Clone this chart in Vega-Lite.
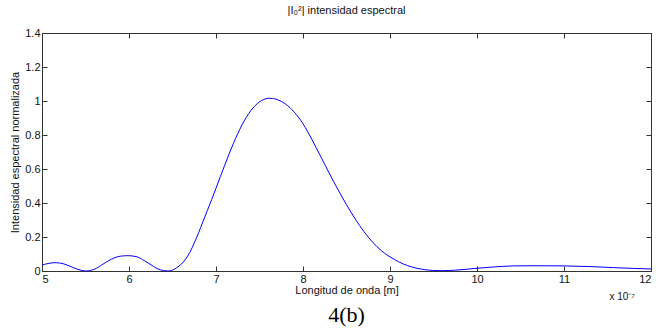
{
  "$schema": "https://vega.github.io/schema/vega-lite/v6.json",
  "width": 609,
  "height": 238,
  "autosize": "none",
  "padding": {"left": 42, "top": 33, "right": 15, "bottom": 63},
  "background": "white",
  "config": {
    "view": {"stroke": "#333333", "strokeWidth": 1},
    "font": "Liberation Sans",
    "axis": {
      "grid": false,
      "domainColor": "#333333",
      "tickColor": "#333333",
      "labelColor": "#111111",
      "titleColor": "#111111",
      "labelFont": "Liberation Sans",
      "titleFont": "Liberation Sans",
      "labelFontSize": 11,
      "titleFontSize": 11,
      "titleFontWeight": "normal",
      "tickSize": -5
    }
  },
  "title": {
    "text": "|I₀²| intensidad espectral",
    "font": "Liberation Sans",
    "fontSize": 11,
    "fontWeight": "normal",
    "color": "#111111",
    "anchor": "middle",
    "offset": 11
  },
  "data": {
    "values": [
      {"longitud": 5.0, "intensidad": 0.035},
      {"longitud": 5.08, "intensidad": 0.045},
      {"longitud": 5.15, "intensidad": 0.049},
      {"longitud": 5.25, "intensidad": 0.042},
      {"longitud": 5.35, "intensidad": 0.022},
      {"longitud": 5.45, "intensidad": 0.004},
      {"longitud": 5.51, "intensidad": 0.0},
      {"longitud": 5.6, "intensidad": 0.01},
      {"longitud": 5.7, "intensidad": 0.04},
      {"longitud": 5.8, "intensidad": 0.07},
      {"longitud": 5.9, "intensidad": 0.087},
      {"longitud": 5.99, "intensidad": 0.09},
      {"longitud": 6.08, "intensidad": 0.085},
      {"longitud": 6.18, "intensidad": 0.06},
      {"longitud": 6.24, "intensidad": 0.041},
      {"longitud": 6.32, "intensidad": 0.015},
      {"longitud": 6.4, "intensidad": 0.002},
      {"longitud": 6.45, "intensidad": 0.0},
      {"longitud": 6.5, "intensidad": 0.006},
      {"longitud": 6.55, "intensidad": 0.02},
      {"longitud": 6.6, "intensidad": 0.04},
      {"longitud": 6.65, "intensidad": 0.07},
      {"longitud": 6.7, "intensidad": 0.11},
      {"longitud": 6.75, "intensidad": 0.165},
      {"longitud": 6.8, "intensidad": 0.225},
      {"longitud": 6.85, "intensidad": 0.29},
      {"longitud": 6.9, "intensidad": 0.355},
      {"longitud": 6.95, "intensidad": 0.42},
      {"longitud": 7.0, "intensidad": 0.487},
      {"longitud": 7.05, "intensidad": 0.555},
      {"longitud": 7.1, "intensidad": 0.622},
      {"longitud": 7.15, "intensidad": 0.688},
      {"longitud": 7.2, "intensidad": 0.75},
      {"longitud": 7.25, "intensidad": 0.808},
      {"longitud": 7.3, "intensidad": 0.86},
      {"longitud": 7.35, "intensidad": 0.905},
      {"longitud": 7.4, "intensidad": 0.943},
      {"longitud": 7.45, "intensidad": 0.973},
      {"longitud": 7.5, "intensidad": 0.995},
      {"longitud": 7.55, "intensidad": 1.009},
      {"longitud": 7.6, "intensidad": 1.016},
      {"longitud": 7.65, "intensidad": 1.015},
      {"longitud": 7.7, "intensidad": 1.009},
      {"longitud": 7.75, "intensidad": 0.998},
      {"longitud": 7.8, "intensidad": 0.982},
      {"longitud": 7.85, "intensidad": 0.961},
      {"longitud": 7.9, "intensidad": 0.934},
      {"longitud": 7.95, "intensidad": 0.903},
      {"longitud": 8.0, "intensidad": 0.866},
      {"longitud": 8.05, "intensidad": 0.823},
      {"longitud": 8.1, "intensidad": 0.776},
      {"longitud": 8.15, "intensidad": 0.727},
      {"longitud": 8.2, "intensidad": 0.677},
      {"longitud": 8.25, "intensidad": 0.627},
      {"longitud": 8.3, "intensidad": 0.577},
      {"longitud": 8.35, "intensidad": 0.528},
      {"longitud": 8.4, "intensidad": 0.481},
      {"longitud": 8.45, "intensidad": 0.435},
      {"longitud": 8.5, "intensidad": 0.39},
      {"longitud": 8.55, "intensidad": 0.347},
      {"longitud": 8.6, "intensidad": 0.306},
      {"longitud": 8.65, "intensidad": 0.268},
      {"longitud": 8.7, "intensidad": 0.232},
      {"longitud": 8.75, "intensidad": 0.199},
      {"longitud": 8.8, "intensidad": 0.17},
      {"longitud": 8.85, "intensidad": 0.143},
      {"longitud": 8.9, "intensidad": 0.12},
      {"longitud": 8.95, "intensidad": 0.1},
      {"longitud": 9.0, "intensidad": 0.083},
      {"longitud": 9.05, "intensidad": 0.068},
      {"longitud": 9.1, "intensidad": 0.054},
      {"longitud": 9.15, "intensidad": 0.042},
      {"longitud": 9.2, "intensidad": 0.032},
      {"longitud": 9.25, "intensidad": 0.024},
      {"longitud": 9.3, "intensidad": 0.017},
      {"longitud": 9.35, "intensidad": 0.012},
      {"longitud": 9.4, "intensidad": 0.008},
      {"longitud": 9.45, "intensidad": 0.005},
      {"longitud": 9.5, "intensidad": 0.003},
      {"longitud": 9.6, "intensidad": 0.002},
      {"longitud": 9.75, "intensidad": 0.005},
      {"longitud": 10.0, "intensidad": 0.016},
      {"longitud": 10.2, "intensidad": 0.024},
      {"longitud": 10.42, "intensidad": 0.03},
      {"longitud": 10.7, "intensidad": 0.031},
      {"longitud": 10.99, "intensidad": 0.03},
      {"longitud": 11.3, "intensidad": 0.026},
      {"longitud": 11.57, "intensidad": 0.02},
      {"longitud": 11.8, "intensidad": 0.015},
      {"longitud": 12.0, "intensidad": 0.012}
    ]
  },
  "layer": [
    {
      "mark": {"type": "line", "color": "#0000ff", "strokeWidth": 1, "interpolate": "monotone"},
      "encoding": {
        "x": {
          "field": "longitud",
          "type": "quantitative",
          "scale": {"domain": [5, 12], "nice": false, "zero": false},
          "axis": {
            "orient": "bottom",
            "title": "Longitud de onda [m]",
            "values": [5, 6, 7, 8, 9, 10, 11, 12],
            "format": "~g",
            "labelPadding": 7,
            "titlePadding": 0
          }
        },
        "y": {
          "field": "intensidad",
          "type": "quantitative",
          "scale": {"domain": [0, 1.4], "nice": false},
          "axis": {
            "orient": "left",
            "title": "Intensidad espectral normalizada",
            "values": [0, 0.2, 0.4, 0.6, 0.8, 1, 1.2, 1.4],
            "format": "~g",
            "labelPadding": 7,
            "titlePadding": 4
          }
        }
      }
    },
    {
      "mark": {"type": "line", "opacity": 0},
      "encoding": {
        "x": {
          "field": "longitud",
          "type": "quantitative",
          "axis": {"orient": "top", "title": null, "labels": false, "values": [5, 6, 7, 8, 9, 10, 11, 12]}
        },
        "y": {
          "field": "intensidad",
          "type": "quantitative",
          "axis": {"orient": "right", "title": null, "labels": false, "values": [0, 0.2, 0.4, 0.6, 0.8, 1, 1.2, 1.4]}
        }
      }
    },
    {
      "data": {"values": [{"nota": "x 10⁻⁷"}]},
      "mark": {"type": "text", "align": "right", "baseline": "alphabetic", "dx": -16, "dy": 29, "fontSize": 10, "font": "Liberation Sans", "color": "#111111"},
      "encoding": {
        "text": {"field": "nota"},
        "x": {"datum": 12, "type": "quantitative", "axis": null},
        "y": {"datum": 0, "type": "quantitative", "axis": null}
      }
    },
    {
      "data": {"values": [{"nota": "4(b)"}]},
      "mark": {"type": "text", "align": "center", "baseline": "alphabetic", "dy": 51, "fontSize": 22, "font": "Liberation Serif", "color": "#000000"},
      "encoding": {
        "text": {"field": "nota"},
        "x": {"datum": 8.5, "type": "quantitative", "axis": null},
        "y": {"datum": 0, "type": "quantitative", "axis": null}
      }
    }
  ],
  "resolve": {"axis": {"x": "independent", "y": "independent"}}
}
